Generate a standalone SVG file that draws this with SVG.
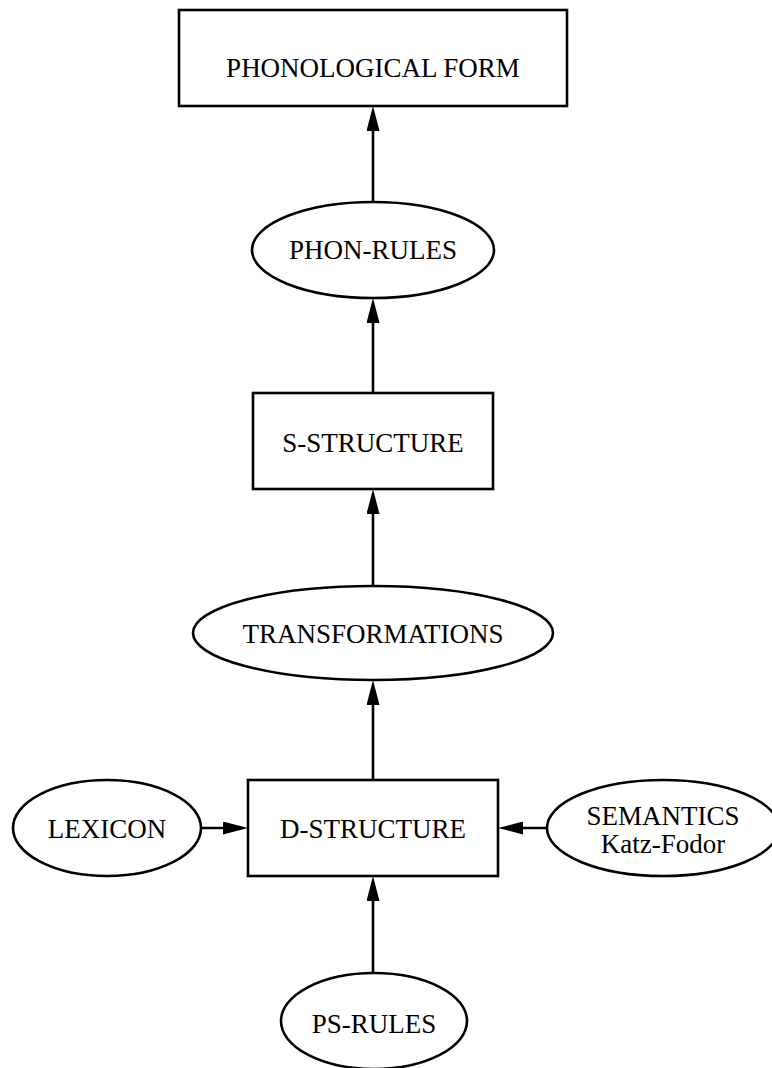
<svg xmlns="http://www.w3.org/2000/svg" width="772" height="1068" viewBox="0 0 772 1068">
<style>
.n{fill:#fff;stroke:#000;stroke-width:2.6}
.t{font-family:"Liberation Serif","Times New Roman",serif;font-size:27px;fill:#000;text-anchor:middle}
.e{stroke:#000;stroke-width:2.6;fill:none}
</style>
<defs>
<marker id="ah" markerUnits="userSpaceOnUse" markerWidth="26" markerHeight="13" refX="15" refY="6.5" orient="auto">
<path d="M0,0 L25,6.5 L0,13 z" fill="#000"/>
</marker>
</defs>
<rect width="772" height="1068" fill="#fff"/>
<g id="connectors">
<path class="e" d="M373,202 L373,116" marker-end="url(#ah)"/>
<path class="e" d="M373,393 L373,308" marker-end="url(#ah)"/>
<path class="e" d="M373,586 L373,499" marker-end="url(#ah)"/>
<path class="e" d="M373,780 L373,690" marker-end="url(#ah)"/>
<path class="e" d="M373,973 L373,886" marker-end="url(#ah)"/>
<path class="e" d="M201,828 L238,828" marker-end="url(#ah)"/>
<path class="e" d="M547,828 L508,828" marker-end="url(#ah)"/>
</g>
<g id="phonological-form">
<rect class="n" x="179" y="10" width="388" height="96"/>
<text class="t" x="373" y="77">PHONOLOGICAL FORM</text>
</g>
<g id="phon-rules">
<ellipse class="n" cx="373" cy="250" rx="121" ry="48"/>
<text class="t" x="373" y="259">PHON-RULES</text>
</g>
<g id="s-structure">
<rect class="n" x="253" y="393" width="240" height="96"/>
<text class="t" x="373" y="452">S-STRUCTURE</text>
</g>
<g id="transformations">
<ellipse class="n" cx="373" cy="633" rx="180" ry="47"/>
<text class="t" x="373" y="643">TRANSFORMATIONS</text>
</g>
<g id="d-structure">
<rect class="n" x="248" y="780" width="250" height="96"/>
<text class="t" x="373" y="838">D-STRUCTURE</text>
</g>
<g id="lexicon">
<ellipse class="n" cx="107" cy="828" rx="94" ry="48"/>
<text class="t" x="107" y="838">LEXICON</text>
</g>
<g id="semantics">
<ellipse class="n" cx="663" cy="828" rx="116" ry="48"/>
<text class="t" x="663" y="825">SEMANTICS</text>
<text class="t" x="663" y="853">Katz-Fodor</text>
</g>
<g id="ps-rules">
<ellipse class="n" cx="374" cy="1021" rx="93" ry="48"/>
<text class="t" x="374" y="1033">PS-RULES</text>
</g>
</svg>
